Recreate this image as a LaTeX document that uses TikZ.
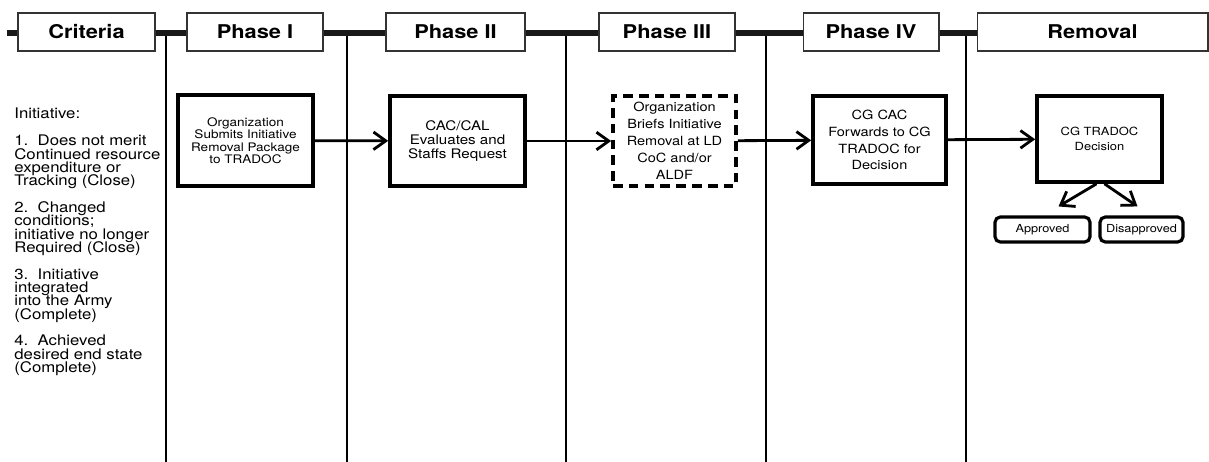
\documentclass[tikz,border=0pt]{standalone}
\usepackage{fontspec}
\setmainfont{TeX Gyre Heros}[FakeStretch=1.15]
\usetikzlibrary{positioning}
\usetikzlibrary{arrows.meta}
\usetikzlibrary{calc}
\setlength{\lineskiplimit}{-10pt}

\begin{document}
\begin{tikzpicture}[x=0.02cm,y=-0.02cm,
  hdr/.style={draw=black!80,line width=0.6pt,fill=white,minimum height=0.76cm,inner sep=0pt,font=\fontsize{10.8}{12}\selectfont\bfseries},
  lane/.style={line width=1.1pt},
  proc/.style={draw,line width=2.1pt,align=center,inner sep=1pt},
  pick/.style={draw,line width=1.8pt,rounded corners=3pt,minimum height=0.5cm,inner sep=0pt,font=\fontsize{6.3}{7}\selectfont},
  arr/.style={line width=1.6pt,-{Straight Barb[length=7pt,width=10pt]}}]
 \useasboundingbox (0,0) rectangle (1209,462);

 \draw[line width=3.4pt,black!90] (7,33) -- (977,33);
 \draw[lane] (166,36) -- (166,462);
 \draw[lane] (347,36) -- (347,462);
 \draw[lane] (566,36) -- (566,462);
 \draw[lane] (766,36) -- (766,462);
 \draw[lane] (966,36) -- (966,462);

 \node[hdr,minimum width=2.74cm,name=crit] at (86.5,32)  {Criteria};
 \node[hdr,minimum width=2.72cm,name=ph1]  at (255,32)   {Phase I};
 \node[hdr,minimum width=2.78cm,name=ph2]  at (455.5,32) {Phase II};
 \node[hdr,minimum width=2.72cm,name=ph3]  at (667,32)   {Phase III};
 \node[hdr,minimum width=2.72cm,name=ph4]  at (871,32)   {Phase IV};
 \node[hdr,minimum width=4.62cm,name=rem]  at (1092.5,32){Removal};

 \node[anchor=north west,inner sep=0pt,align=left,font=\fontsize{8.3}{7.6}\selectfont,name=crit_txt] at (14,108)
  {Initiative:\\[7.6pt]
   1.\ \ Does not merit\\Continued resource\\expenditure or\\Tracking (Close)\\[7.6pt]
   2.\ \ Changed\\conditions;\\initiative no longer\\Required (Close)\\[7.6pt]
   3.\ \ Initiative\\integrated\\into the Army\\(Complete)\\[7.6pt]
   4.\ \ Achieved\\desired end state\\(Complete)};

 \node[proc,minimum width=2.7cm,minimum height=1.82cm,font=\fontsize{6.7}{7.1}\selectfont,name=submit] at (245.5,140.5)
  {Organization\\Submits Initiative\\Removal Package\\to TRADOC};
 \node[proc,minimum width=2.7cm,minimum height=1.8cm,font=\fontsize{7.5}{8.2}\selectfont,name=evaluate] at (457.5,141)
  {CAC/CAL\\Evaluates and\\Staffs Request};
 \node[proc,dashed,dash pattern=on 5.5pt off 3.5pt,minimum width=2.46cm,minimum height=1.8cm,font=\fontsize{7.2}{9.6}\selectfont,name=brief] at (674.5,141)
  {Organization\\Briefs Initiative\\Removal at LD\\CoC and/or\\ALDF};
 \node[proc,minimum width=2.66cm,minimum height=1.76cm,font=\fontsize{7.2}{9.6}\selectfont,name=forward] at (879.5,140)
  {CG CAC\\Forwards to CG\\TRADOC for\\Decision};
 \node[proc,minimum width=2.5cm,minimum height=1.72cm,font=\fontsize{6.4}{8.5}\selectfont,name=decide] at (1099.5,139)
  {CG TRADOC\\Decision};

 \node[pick,minimum width=1.9cm,name=approved]     at (1042.5,229.5) {Approved};
 \node[pick,minimum width=1.66cm,name=disapproved] at (1141.5,229.5) {Disapproved};

 \draw[arr] (submit)   -- (evaluate);
 \draw[arr] (evaluate) -- (brief);
 \draw[arr] (brief)    -- (forward);
 \draw[arr] (forward)  -- (decide);
 \draw[arr] ($(decide.south)+(-3,0)$) -- ($(approved.north)+(16,-9)$);
 \draw[arr] ($(decide.south)+(5,0)$)  -- ($(disapproved.north)+(-4,-9)$);

\end{tikzpicture}
\end{document}
